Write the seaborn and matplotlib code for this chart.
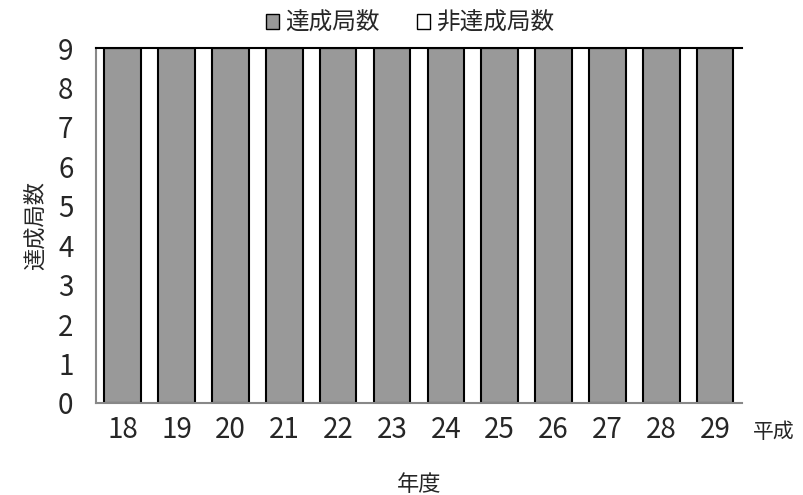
import pandas as pd
import matplotlib.pyplot as plt
import seaborn as sns
from matplotlib.patches import Patch

years = ["18", "19", "20", "21", "22", "23", "24", "25", "26", "27", "28", "29"]
achieved = [9, 9, 9, 9, 9, 9, 9, 9, 9, 9, 9, 9]
not_achieved = [0, 0, 0, 0, 0, 0, 0, 0, 0, 0, 0, 0]

df = pd.DataFrame({"年度": years, "達成局数": achieved, "非達成局数": not_achieved})

sns.set_style("white")
plt.rcParams['font.family'] = ['Noto Sans CJK JP', 'DejaVu Sans']

fig = plt.figure(figsize=(8.04, 4.95), dpi=100)
ax = fig.add_axes([0.119, 0.186, 0.804, 0.717])

sns.barplot(x="年度", y="達成局数", data=df, color="#999999", edgecolor="black",
            linewidth=1.5, width=0.68, saturation=1, ax=ax)
ax.bar(range(len(years)), df["非達成局数"], bottom=df["達成局数"], width=0.68,
       color="white", edgecolor="black", linewidth=1.5)

ax.set_ylim(0, 9)
ax.set_xlim(-0.5, len(years) - 0.5)
ax.set_yticks(range(0, 10))
ax.tick_params(axis="both", labelsize=20, length=0)
ax.tick_params(axis="x", pad=9)
ax.tick_params(axis="y", pad=16)

ax.spines["right"].set_visible(False)
ax.spines["left"].set_color("#888888")
ax.spines["bottom"].set_color("#888888")
ax.spines["left"].set_linewidth(1.5)
ax.spines["bottom"].set_linewidth(1.5)
ax.spines["top"].set_color("black")
ax.spines["top"].set_linewidth(1.5)

ax.set_ylabel("達成局数", fontsize=16, labelpad=8)
ax.set_xlabel("年度", fontsize=16, labelpad=20)
fig.text(0.937, 0.128, "平成", fontsize=15, ha="left", va="center")

handles = [Patch(facecolor="#999999", edgecolor="black", label="達成局数"),
           Patch(facecolor="white", edgecolor="black", label="非達成局数")]
fig.legend(handles=handles, loc="center", bbox_to_anchor=(0.51, 0.953), ncol=2,
           frameon=False, fontsize=17, handlelength=0.55, handleheight=0.55,
           handletextpad=0.25, columnspacing=1.6)

plt.savefig("out.png")
plt.close()
